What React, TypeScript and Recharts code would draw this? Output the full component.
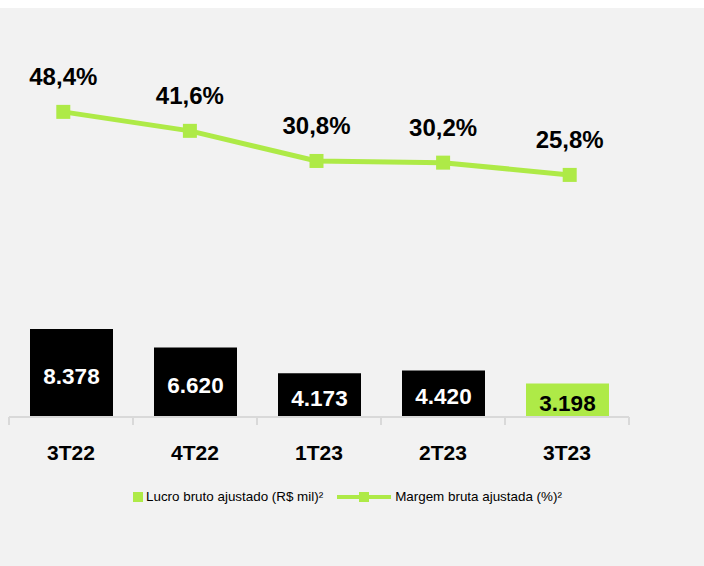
import { Bar, Cell, ComposedChart, LabelList, Line, XAxis, YAxis } from 'recharts';

const categories = ['3T22', '4T22', '1T23', '2T23', '3T23'];
const lucroBruto = [8378, 6620, 4173, 4420, 3198];
const margemBruta = [48.4, 41.6, 30.8, 30.2, 25.8];
const highlightQuarter = '3T23';

const GREEN = '#aeea47';
const FONT = '"Liberation Sans", Arial, Helvetica, sans-serif';

const data = categories.map((quarter, i) => ({
  quarter,
  lucro: lucroBruto[i],
  margem: margemBruta[i],
}));

const formatThousands = (v: number) => String(v).replace(/\B(?=(\d{3})+(?!\d))/g, '.');
const formatPercent = (v: number) => `${v.toFixed(1).replace('.', ',')}%`;

const QuarterTick = (props: any) => {
  const { x, y, payload, index } = props;
  const half = payload && payload.offset ? payload.offset : 62;
  return (
    <g>
      <line x1={x - half} y1={y} x2={x - half} y2={y + 8} stroke='#d9d9d9' strokeWidth={2} />
      {index === categories.length - 1 && (
        <line x1={x + half} y1={y} x2={x + half} y2={y + 8} stroke='#d9d9d9' strokeWidth={2} />
      )}
      <text
        x={x}
        y={y + 35}
        textAnchor='middle'
        dominantBaseline='central'
        fontSize={21}
        fontWeight={700}
        fill='#000'
        fontFamily={FONT}
      >
        {payload.value}
      </text>
    </g>
  );
};

const SquareDot = (props: any) => {
  const { cx, cy } = props;
  if (cx == null || cy == null) return null;
  return <rect x={cx - 7} y={cy - 7} width={14} height={14} fill={GREEN} />;
};

const BarValue = (props: any) => {
  const { x, y, width, height, value, index } = props;
  const highlighted = categories[index] === highlightQuarter;
  return (
    <text
      x={x + width / 2}
      y={y + height / 2 + 3}
      textAnchor='middle'
      dominantBaseline='central'
      fontSize={22.5}
      fontWeight={700}
      fill={highlighted ? '#000' : '#fff'}
      fontFamily={FONT}
    >
      {formatThousands(value)}
    </text>
  );
};

const MarginValue = (props: any) => {
  const { x, y, value } = props;
  return (
    <text
      x={x}
      y={y - 35}
      textAnchor='middle'
      dominantBaseline='central'
      fontSize={24}
      fontWeight={700}
      fill='#000'
      fontFamily={FONT}
    >
      {formatPercent(value)}
    </text>
  );
};

export default function App() {
  return (
    <div
      style={{
        position: 'fixed',
        top: 8,
        left: 0,
        width: 704,
        height: 558,
        background: '#f2f2f2',
        fontFamily: FONT,
        overflow: 'hidden',
      }}
    >
      <ComposedChart
        width={704}
        height={558}
        data={data}
        margin={{ top: 52, right: 75, bottom: 119, left: 9 }}
      >
        <XAxis
          dataKey='quarter'
          stroke='#d9d9d9'
          axisLine={{ stroke: '#d9d9d9', strokeWidth: 2 }}
          tickLine={false}
          tickSize={0}
          tickMargin={0}
          tick={<QuarterTick />}
          interval={0}
        />
        <XAxis xAxisId='line' dataKey='quarter' hide padding={{ left: -9, right: -4 }} />
        <YAxis yAxisId='bar' hide domain={[0, 34000]} allowDataOverflow />
        <YAxis yAxisId='line' hide domain={[-61, 67]} allowDataOverflow />
        <Bar dataKey='lucro' yAxisId='bar' barSize={83} isAnimationActive={false}>
          {data.map((d) => (
            <Cell key={d.quarter} fill={d.quarter === highlightQuarter ? GREEN : '#000'} />
          ))}
          <LabelList dataKey='lucro' content={<BarValue />} />
        </Bar>
        <Line
          dataKey='margem'
          xAxisId='line'
          yAxisId='line'
          stroke={GREEN}
          strokeWidth={5}
          dot={<SquareDot />}
          activeDot={false}
          isAnimationActive={false}
        >
          <LabelList dataKey='margem' content={<MarginValue />} />
        </Line>
      </ComposedChart>
      <div
        style={{
          position: 'absolute',
          top: 481,
          left: 133,
          display: 'flex',
          alignItems: 'center',
          fontSize: 13.4,
          color: '#000',
          whiteSpace: 'nowrap',
        }}
      >
        <span style={{ width: 10, height: 10, background: GREEN, display: 'inline-block', marginRight: 3 }} />
        <span>Lucro bruto ajustado (R$ mil)²</span>
        <svg width={54} height={10} style={{ marginLeft: 14, marginRight: 4 }}>
          <line x1={0} y1={5} x2={54} y2={5} stroke={GREEN} strokeWidth={4} />
          <rect x={22} y={0} width={10} height={10} fill={GREEN} />
        </svg>
        <span>Margem bruta ajustada (%)²</span>
      </div>
    </div>
  );
}
